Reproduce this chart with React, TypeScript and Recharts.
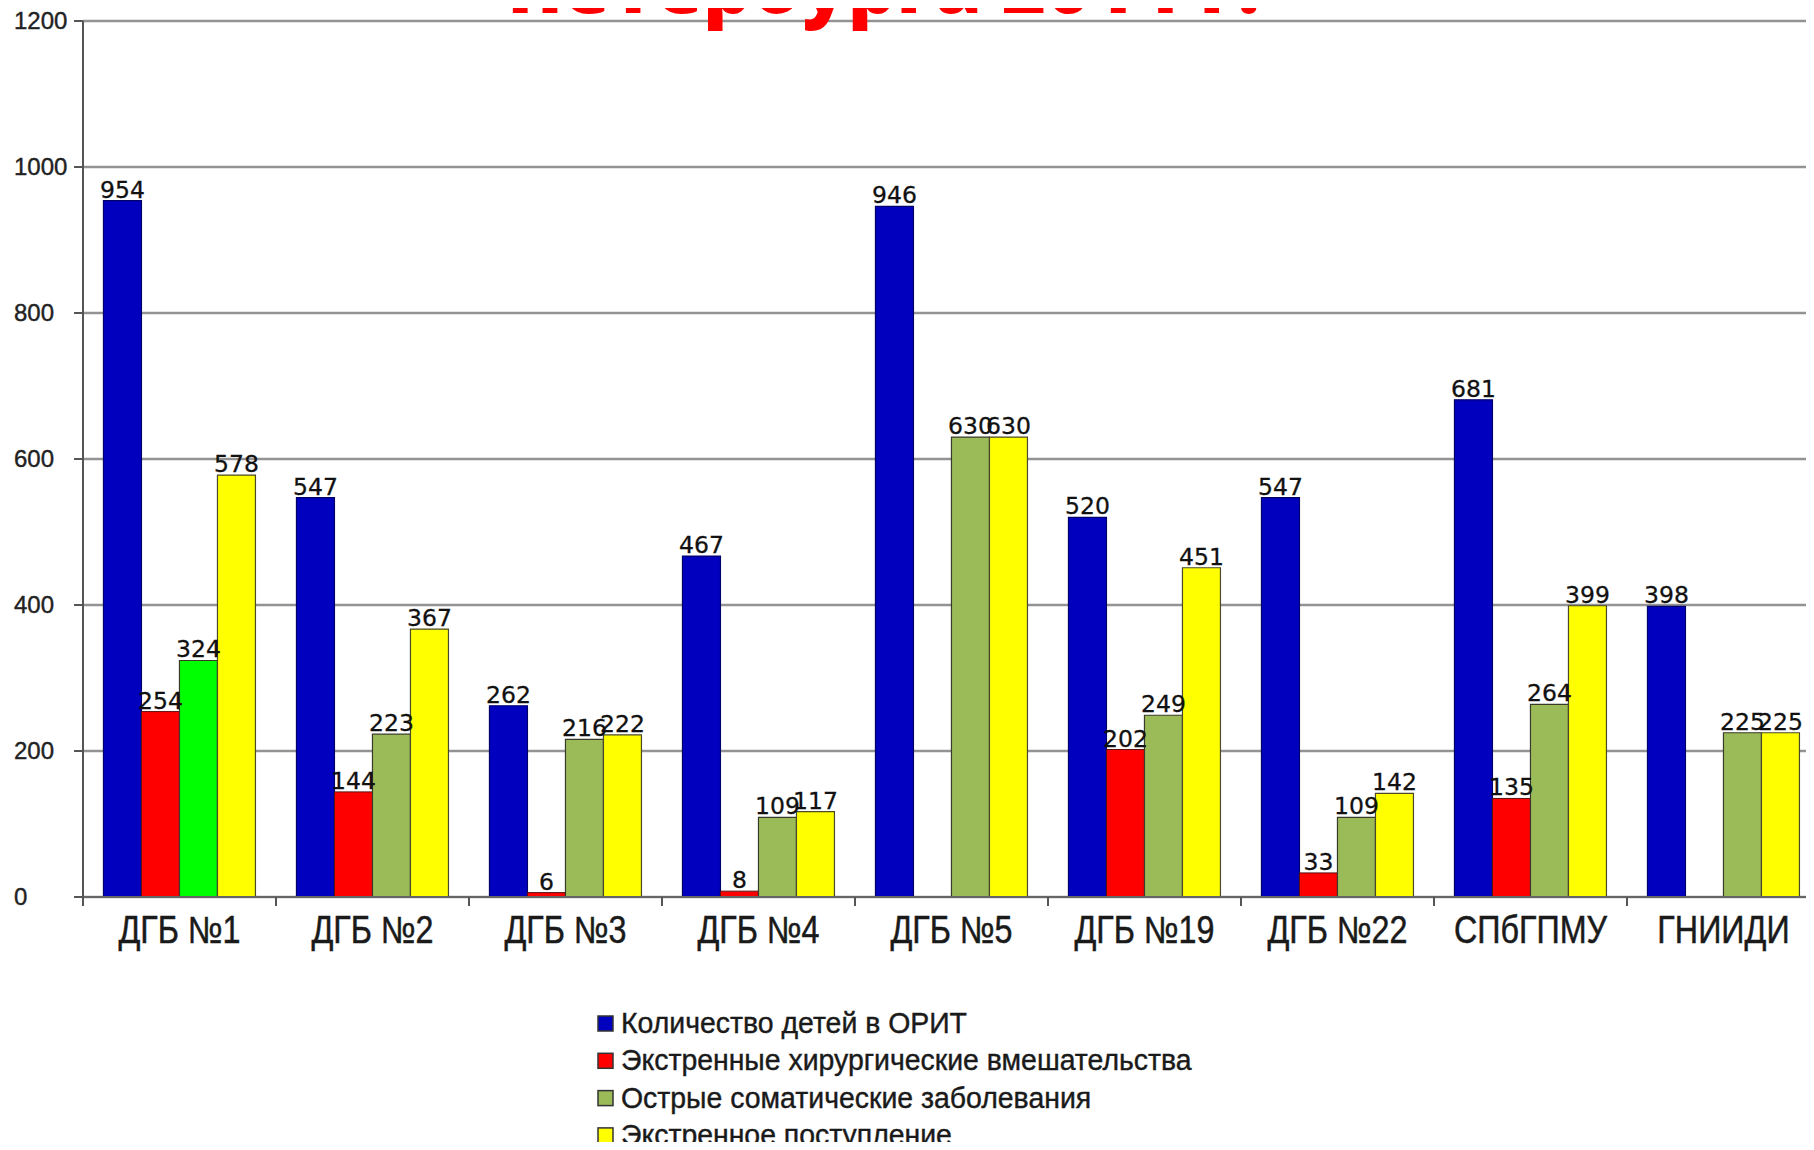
import { BarChart, Bar, XAxis, YAxis, CartesianGrid, LabelList, Cell } from "recharts";

const categories = ["ДГБ №1", "ДГБ №2", "ДГБ №3", "ДГБ №4", "ДГБ №5", "ДГБ №19", "ДГБ №22", "СПбГПМУ", "ГНИИДИ"];
const oritChildren = [954, 547, 262, 467, 946, 520, 547, 681, 398];
const surgery = [254, 144, 6, 8, 0, 202, 33, 135, 0];
const somatic = [324, 223, 216, 109, 630, 249, 109, 264, 225];
const emergency = [578, 367, 222, 117, 630, 451, 142, 399, 225];
const yTicks = [0, 200, 400, 600, 800, 1000, 1200];

const seriesNames = [
  "Количество детей в ОРИТ",
  "Экстренные хирургические вмешательства",
  "Острые соматические заболевания",
  "Экстренное поступление",
];
const seriesColors = ["#0000BE", "#FF0000", "#9BBB59", "#FFFF00"];
// the first hospital's somatic bar is drawn in pure green
const highlightColor = "#00FF00";

const CHART_W = 1820;
const CHART_H = 1150;
const AXIS_W = 83;
const band = (CHART_W - AXIS_W) / categories.length;

const chartData = categories.map((name, i) => ({
  name,
  orit: oritChildren[i],
  surgery: surgery[i],
  somatic: somatic[i],
  emergency: emergency[i],
}));

const YTick = ({ y, payload }: any) => (
  <text
    x={14}
    y={y + 8}
    fontFamily="Liberation Sans, Arial, sans-serif"
    fontSize={24}
    fill="#222"
    stroke="#222"
    strokeWidth={0.4}
  >
    {payload.value}
  </text>
);

const XTick = ({ x, y, payload }: any) => {
  const axisY = y - 8;
  const left = x - band / 2;
  return (
    <g>
      <line x1={left} y1={axisY} x2={left} y2={axisY + 9} stroke="#555" strokeWidth={2} />
      <text
        transform={`translate(${x},${y + 38}) scale(0.85,1)`}
        textAnchor="middle"
        fontFamily="Liberation Sans, Arial, sans-serif"
        fontSize={38}
        fill="#1a1a1a"
        stroke="#1a1a1a"
        strokeWidth={0.5}
      >
        {payload.value}
      </text>
    </g>
  );
};

const valueLabel = (props: any) => {
  const { x, y, width, value } = props;
  if (!value) return null;
  return (
    <text
      x={x + width / 2}
      y={y - 3}
      textAnchor="middle"
      fontFamily="DejaVu Sans, Verdana, sans-serif"
      fontSize={23.5}
      fill="#111"
      stroke="#111"
      strokeWidth={0.3}
    >
      {value}
    </text>
  );
};

export default function App() {
  return (
    <div style={{ position: "relative", margin: -8, width: 1814, height: 1150, overflow: "hidden", background: "#fff" }}>
      <BarChart
        width={CHART_W}
        height={CHART_H}
        data={chartData}
        margin={{ top: 21, right: 0, left: 0, bottom: 193 }}
        barCategoryGap="10.6%"
        barGap={0}
      >
        <CartesianGrid vertical={false} stroke="#939393" strokeWidth={2.6} />
        <XAxis
          dataKey="name"
          height={60}
          tickLine={false}
          axisLine={{ stroke: "#666", strokeWidth: 2 }}
          tick={<XTick />}
          interval={0}
        />
        <YAxis
          width={AXIS_W}
          domain={[0, 1200]}
          ticks={yTicks}
          tickSize={9}
          tickLine={{ stroke: "#555", strokeWidth: 2 }}
          axisLine={{ stroke: "#555", strokeWidth: 2 }}
          tick={<YTick />}
        />
        <Bar dataKey="orit" name={seriesNames[0]} fill={seriesColors[0]} stroke="#00006a" strokeWidth={1.2} isAnimationActive={false}>
          <LabelList dataKey="orit" content={valueLabel} />
        </Bar>
        <Bar dataKey="surgery" name={seriesNames[1]} fill={seriesColors[1]} stroke="#5a1010" strokeWidth={1} isAnimationActive={false}>
          <LabelList dataKey="surgery" content={valueLabel} />
        </Bar>
        <Bar dataKey="somatic" name={seriesNames[2]} fill={seriesColors[2]} stroke="#3a3a2a" strokeWidth={1.2} isAnimationActive={false}>
          {chartData.map((_, i) => (
            <Cell key={i} fill={i === 0 ? highlightColor : seriesColors[2]} />
          ))}
          <LabelList dataKey="somatic" content={valueLabel} />
        </Bar>
        <Bar dataKey="emergency" name={seriesNames[3]} fill={seriesColors[3]} stroke="#4a4a2a" strokeWidth={1.2} isAnimationActive={false}>
          <LabelList dataKey="emergency" content={valueLabel} />
        </Bar>
      </BarChart>

      <svg width={1814} height={1150} style={{ position: "absolute", left: 0, top: 0, pointerEvents: "none" }}>
        <text x={507} y={13} fontFamily="Open Sans, sans-serif" fontWeight={800} fontSize={76} fill="#FF0000">
          Петербурга 2014 г.
        </text>
        {seriesNames.map((name, i) => {
          const cy = 1024 + i * 37.3;
          return (
            <g key={name}>
              <rect x={598} y={cy - 8} width={15} height={15} fill={seriesColors[i]} stroke="#333" strokeWidth={1.5} />
              <text
                transform={`translate(621,${cy + 9}) scale(0.98,1)`}
                fontFamily="Liberation Sans, Arial, sans-serif"
                fontSize={29}
                fill="#1a1a1a"
                stroke="#1a1a1a"
                strokeWidth={0.4}
              >
                {name}
              </text>
            </g>
          );
        })}
      </svg>
    </div>
  );
}
